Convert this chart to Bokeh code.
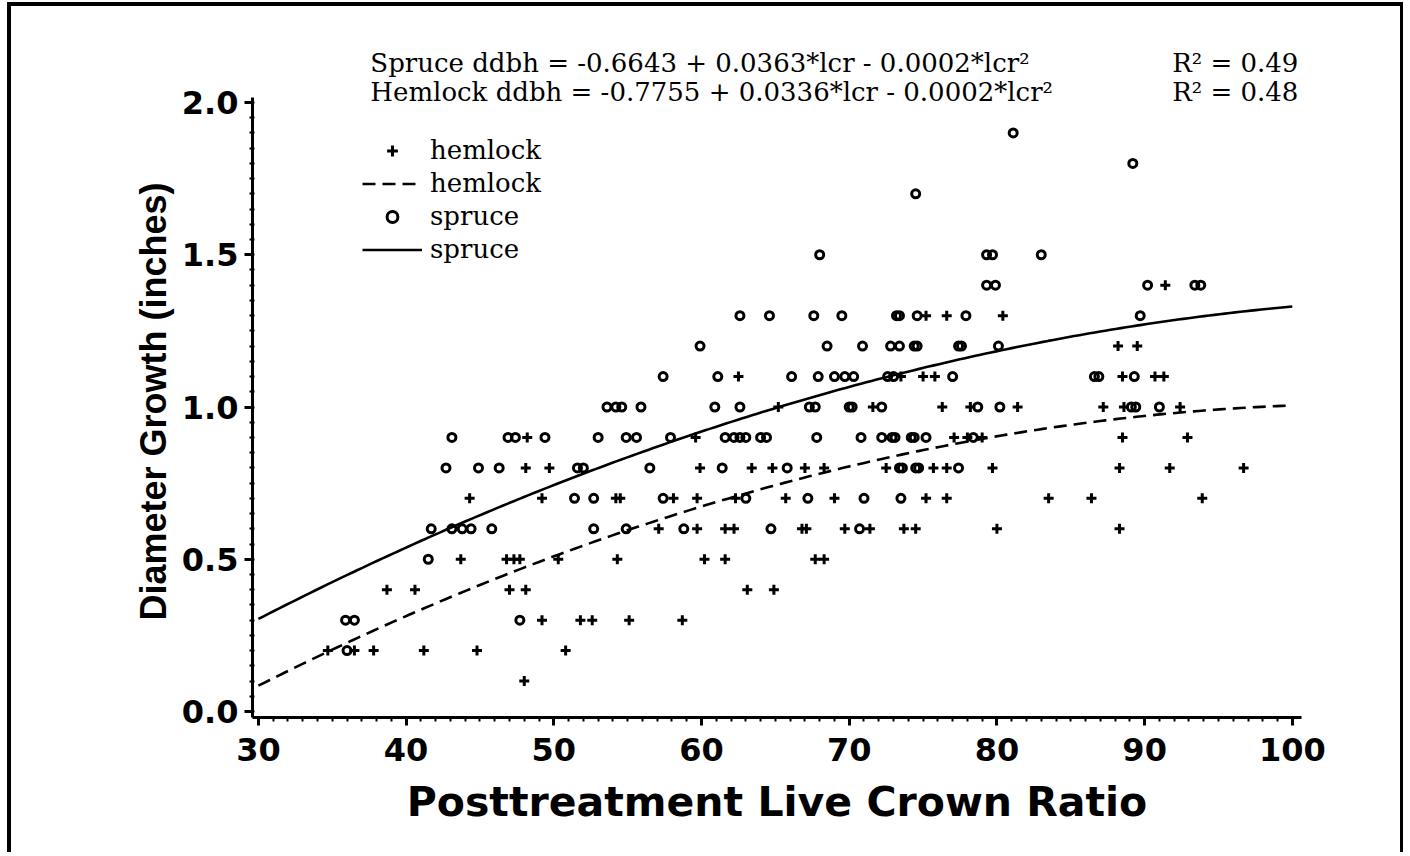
from bokeh.plotting import figure
from bokeh.models import Range1d, SingleIntervalTicker, NumeralTickFormatter, Label, Legend, LegendItem, Title
from bokeh.embed import file_html
from bokeh.resources import INLINE
import numpy as np

# ---------------- data ----------------
spruce_lcr = [81.1,
              89.2,
              74.5,
              68.0, 79.3, 79.7, 83.0,
              79.3, 79.9, 90.2, 93.4, 93.8,
              62.6, 64.6, 67.6, 69.5, 73.2, 73.4, 74.6, 77.9, 89.7,
              59.9, 68.5, 70.9, 72.8, 73.4, 74.4, 74.6, 77.4, 77.6, 80.1,
              57.4, 61.1, 66.1, 67.9, 69.0, 69.7, 70.3, 72.6, 73.0, 77.0, 86.6, 86.9, 89.3,
              53.6, 54.2, 54.6, 55.9, 60.9, 62.6, 67.3, 67.7, 70.0, 70.2, 72.2, 78.7, 80.2, 89.1, 89.4, 91.0,
              43.1, 46.9, 47.4, 49.4, 53.0, 54.9, 55.6, 57.9, 61.6, 62.2, 62.6, 63.0, 64.0, 64.4, 67.8, 70.8,
              72.2, 72.9, 73.1, 74.2, 74.4, 75.2, 78.4,
              42.7, 44.9, 46.3, 51.6, 52.0, 56.5, 61.4, 65.8, 73.4, 73.6, 74.5, 74.7, 77.4,
              51.4, 52.7, 57.4, 63.0, 67.2, 71.0, 73.5,
              41.7, 43.1, 43.8, 44.4, 45.8, 52.7, 54.9, 58.8, 64.7, 70.7,
              41.5,
              35.9, 36.5, 47.7,
              36.0]
spruce_ddbh = [1.9,
               1.8,
               1.7,
               1.5, 1.5, 1.5, 1.5,
               1.4, 1.4, 1.4, 1.4, 1.4,
               1.3, 1.3, 1.3, 1.3, 1.3, 1.3, 1.3, 1.3, 1.3,
               1.2, 1.2, 1.2, 1.2, 1.2, 1.2, 1.2, 1.2, 1.2, 1.2,
               1.1, 1.1, 1.1, 1.1, 1.1, 1.1, 1.1, 1.1, 1.1, 1.1, 1.1, 1.1, 1.1,
               1.0, 1.0, 1.0, 1.0, 1.0, 1.0, 1.0, 1.0, 1.0, 1.0, 1.0, 1.0, 1.0, 1.0, 1.0, 1.0,
               0.9, 0.9, 0.9, 0.9, 0.9, 0.9, 0.9, 0.9, 0.9, 0.9, 0.9, 0.9, 0.9, 0.9, 0.9, 0.9,
               0.9, 0.9, 0.9, 0.9, 0.9, 0.9, 0.9,
               0.8, 0.8, 0.8, 0.8, 0.8, 0.8, 0.8, 0.8, 0.8, 0.8, 0.8, 0.8, 0.8,
               0.7, 0.7, 0.7, 0.7, 0.7, 0.7, 0.7,
               0.6, 0.6, 0.6, 0.6, 0.6, 0.6, 0.6, 0.6, 0.6, 0.6,
               0.5,
               0.3, 0.3, 0.3,
               0.2]

hemlock_lcr = [91.4,
               75.2, 76.6, 80.4,
               88.2, 89.5,
               62.5, 73.5, 75.0, 75.8, 88.5, 90.7, 91.3,
               65.2, 71.6, 76.3, 78.2, 81.4, 87.2, 88.6, 92.4,
               48.2, 59.6, 77.1, 78.0, 79.0, 88.5, 92.9,
               48.1, 49.7, 59.9, 63.4, 64.8, 67.0, 68.3, 72.5, 75.7, 76.6, 79.7, 88.3, 91.7, 96.7,
               44.3, 49.2, 54.2, 54.5, 58.1, 59.7, 62.3, 65.7, 69.0, 75.2, 76.6, 83.5, 86.4, 93.9,
               57.1, 59.7, 61.6, 62.2, 66.8, 67.1, 69.7, 71.4, 73.7, 74.5, 80.0, 88.3,
               43.7, 46.8, 47.3, 47.7, 50.3, 54.3, 60.2, 61.6, 67.7, 68.3,
               38.7, 40.6, 47.0, 48.1, 63.1, 64.9,
               49.2, 51.8, 52.6, 55.1, 58.7,
               34.7, 36.5, 37.8, 41.2, 44.8, 50.8,
               48.0]
hemlock_ddbh = [1.4,
                1.3, 1.3, 1.3,
                1.2, 1.2,
                1.1, 1.1, 1.1, 1.1, 1.1, 1.1, 1.1,
                1.0, 1.0, 1.0, 1.0, 1.0, 1.0, 1.0, 1.0,
                0.9, 0.9, 0.9, 0.9, 0.9, 0.9, 0.9,
                0.8, 0.8, 0.8, 0.8, 0.8, 0.8, 0.8, 0.8, 0.8, 0.8, 0.8, 0.8, 0.8, 0.8,
                0.7, 0.7, 0.7, 0.7, 0.7, 0.7, 0.7, 0.7, 0.7, 0.7, 0.7, 0.7, 0.7, 0.7,
                0.6, 0.6, 0.6, 0.6, 0.6, 0.6, 0.6, 0.6, 0.6, 0.6, 0.6, 0.6,
                0.5, 0.5, 0.5, 0.5, 0.5, 0.5, 0.5, 0.5, 0.5, 0.5,
                0.4, 0.4, 0.4, 0.4, 0.4, 0.4,
                0.3, 0.3, 0.3, 0.3, 0.3,
                0.2, 0.2, 0.2, 0.2, 0.2, 0.2,
                0.1]

# fitted quadratic curves as drawn (intercept, lcr, lcr^2)
spruce_curve_coef = [-0.575, 0.03369, -0.0001464]
hemlock_curve_coef = [-0.795, 0.03418, -0.0001618]
curve_lcr_range = [30, 100]

eq_lines = ["Spruce ddbh = -0.6643 + 0.0363*lcr - 0.0002*lcr\u00b2",
            "Hemlock ddbh = -0.7755 + 0.0336*lcr - 0.0002*lcr\u00b2"]
r2_lines = ["R\u00b2 = 0.49", "R\u00b2 = 0.48"]

x_title = "Posttreatment Live Crown Ratio"
y_title = "Diameter Growth (inches)"

# ---------------- figure ----------------
p = figure(width=1396, height=850,
           x_range=Range1d(29.6, 100.62), y_range=Range1d(-0.0197, 2.2693),
           output_backend="svg", toolbar_location=None,
           min_border_left=241, min_border_right=106,
           min_border_top=14, min_border_bottom=139)
p.styles = {"margin-left": "7px", "margin-top": "2px",
            "border-top": "4px solid black",
            "border-left": "4px solid black", "border-right": "3px solid black"}
p.outline_line_color = None
p.xgrid.visible = False
p.ygrid.visible = False
p.background_fill_color = "white"
p.border_fill_color = "white"

xs = np.linspace(curve_lcr_range[0], curve_lcr_range[1], 200)
def quad(c, x):
    return c[0] + c[1] * x + c[2] * x ** 2

r_hem_pts = p.scatter(hemlock_lcr, hemlock_ddbh, marker="cross", size=10,
                      line_color="black", line_width=3)
r_hem_line = p.line(xs, quad(hemlock_curve_coef, xs), line_color="black",
                    line_width=2.6, line_dash="13 7")
r_spr_pts = p.scatter(spruce_lcr, spruce_ddbh, marker="circle", size=8,
                      line_color="black", fill_alpha=0, line_width=3)
r_spr_line = p.line(xs, quad(spruce_curve_coef, xs), line_color="black",
                    line_width=2.6)

legend = Legend(items=[LegendItem(label="hemlock", renderers=[r_hem_pts]),
                       LegendItem(label="hemlock", renderers=[r_hem_line]),
                       LegendItem(label="spruce", renderers=[r_spr_pts]),
                       LegendItem(label="spruce", renderers=[r_spr_line])],
                location=(110, 453), margin=0, padding=0, spacing=3,
                glyph_width=60, glyph_height=27, label_height=27, label_standoff=8,
                label_text_font="DejaVu Serif", label_text_font_size="26px",
                label_text_color="black",
                border_line_color=None, background_fill_alpha=0)
p.add_layout(legend, "center")

for i, t in enumerate(eq_lines):
    p.add_layout(Label(x=37.58, y=[2.131, 2.033][i], text=t, text_font="DejaVu Serif",
                       text_font_size="26px", text_color="black",
                       text_baseline="alphabetic", text_align="left"))
for i, t in enumerate(r2_lines):
    p.add_layout(Label(x=100.41, y=[2.131, 2.033][i], text=t, text_font="DejaVu Serif",
                       text_font_size="26px", text_color="black",
                       text_baseline="alphabetic", text_align="right"))

# axes
p.xaxis.ticker = SingleIntervalTicker(interval=10, num_minor_ticks=10)
p.yaxis.ticker = SingleIntervalTicker(interval=0.5, num_minor_ticks=10)
p.yaxis.formatter = NumeralTickFormatter(format="0.0")
p.xaxis.bounds = (29.6, 100.62)
p.yaxis.bounds = (-0.0197, 2.017)
for ax in (p.xaxis[0], p.yaxis[0]):
    ax.axis_line_width = 3
    ax.axis_line_color = "black"
    ax.major_tick_line_width = 3
    ax.major_tick_line_color = "black"
    ax.minor_tick_line_width = 2
    ax.minor_tick_line_color = "black"
    ax.major_tick_out = 8
    ax.major_tick_in = 0
    ax.major_label_text_font = "DejaVu Sans"
    ax.major_label_text_font_style = "bold"
    ax.major_label_text_font_size = "32px"
    ax.major_label_text_color = "black"
    ax.axis_label_text_color = "black"
    ax.axis_label_text_font_style = "bold"
p.xaxis.minor_tick_out = 4
p.xaxis.minor_tick_in = 0
p.yaxis.minor_tick_out = 3
p.yaxis.minor_tick_in = 2
p.xaxis.major_label_standoff = 12
p.yaxis.major_label_standoff = 6

p.xaxis.axis_label = x_title
p.xaxis.axis_label_text_font = "DejaVu Sans"
p.xaxis.axis_label_text_font_size = "41px"
p.xaxis.axis_label_standoff = 14

# y-axis title, placed along the drawn axis (not the taller frame)
p.add_layout(Title(text=y_title, align="left", offset=97, standoff=10,
                   text_font="Liberation Sans", text_font_size="36px",
                   text_font_style="bold", text_color="black"), "left")

open("out.html", "w").write(file_html(p, INLINE))
